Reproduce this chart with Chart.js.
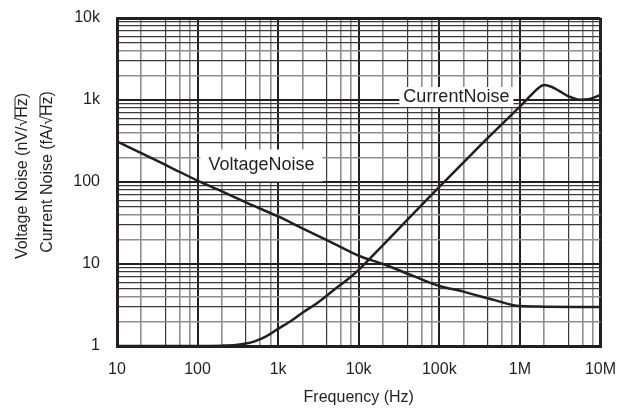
<!DOCTYPE html>
<html>
<head>
<meta charset="utf-8">
<script src="https://cdn.jsdelivr.net/npm/chart.js@4.4.1/dist/chart.umd.min.js"></script>
<style>
  html, body { margin: 0; padding: 0; background: #fff; }
  #wrap { width: 630px; height: 410px; }
</style>
</head>
<body>
<div id="wrap"><canvas id="noise"></canvas></div>
<script>
// values (Hz, nV/rtHz and fA/rtHz)
const freqV = [10, 20, 50, 100, 200, 500, 1e3, 2e3, 5e3, 1e4, 2e4, 5e4, 1e5, 2e5, 3e5, 5e5, 8e5, 1e6, 2e6, 5e6, 1e7];
const voltageNoise = [313, 225, 145, 104, 77, 51, 38, 27.2, 17.6, 12.6, 10.0, 7.0, 5.4, 4.6, 4.1, 3.6, 3.17, 3.07, 3.02, 3.0, 3.0];

const freqI = [10, 100, 200, 300, 400, 500, 700, 1e3, 1.5e3, 2e3, 3e3, 5e3, 7e3, 1e4, 2e4, 4e4, 1e5, 2e5, 4e5, 7e5, 1e6, 1.25e6, 1.5e6, 1.75e6, 2e6, 2.5e6, 3e6, 4e6, 5.5e6, 7e6, 1e7];
const currentNoise = [1.0, 1.0, 1.01, 1.03, 1.07, 1.13, 1.3, 1.62, 2.08, 2.55, 3.3, 4.9, 6.3, 8.5, 17, 34.5, 87, 173, 345, 590, 830, 1040, 1250, 1430, 1520, 1440, 1310, 1110, 1010, 1020, 1150];

const xTickValues = [10, 100, 1e3, 1e4, 1e5, 1e6, 1e7];
const xTickLabels = ['10', '100', '1k', '10k', '100k', '1M', '10M'];
const yTickValues = [1, 10, 100, 1000, 10000];
const yTickLabels = ['1', '10', '100', '1k', '10k'];

const xMinor = [2, 4, 6, 8];
const yMinor = [2, 3, 4, 5, 6, 7, 8, 9];

// curve labels, anchored in data units
const noteText = ['CurrentNoise', 'VoltageNoise'];
const noteX = [1.63e5, 620];
const noteY = [1090, 159];

const INK = '#231f20';
const FONT = '"Liberation Sans", Arial, Helvetica, sans-serif';

function gridValues(decades, minors) {
  const out = [];
  decades.forEach((d, i) => {
    out.push(d);
    if (i < decades.length - 1) minors.forEach(m => out.push(m * d));
  });
  return out;
}

function mult(v) {
  const e = Math.floor(Math.log10(v) + 1e-9);
  return Math.round(v / Math.pow(10, e));
}

// dark minors per axis, the rest are drawn grey
const xDark = [4];
const yDark = [3, 5, 6, 7, 8, 9];

function gridColor(v, dark) {
  const m = mult(v);
  if (m === 1) return INK;
  return dark.includes(m) ? '#3a3a3a' : '#8e8e8e';
}
function gridWidth(v, dark, lo, hi) {
  const m = mult(v);
  if (Math.abs(v - lo) < 1e-9 || Math.abs(v - hi) < 1e-6) return 3;
  if (m === 1) return 2;
  return dark.includes(m) ? 1.2 : 1.6;
}

const toPts = (xs, ys) => xs.map((x, i) => ({ x, y: ys[i] }));

const notesPlugin = {
  id: 'notes',
  beforeDatasetsDraw(chart) {
    const { ctx, scales } = chart;
    const pads = [[4, 10], [8, 16]];  // [padX, padY] per label
    ctx.save();
    ctx.font = '18px ' + FONT;
    ctx.textAlign = 'center';
    ctx.textBaseline = 'middle';
    noteText.forEach((t, i) => {
      const px = scales.x.getPixelForValue(noteX[i]);
      const py = scales.y.getPixelForValue(noteY[i]);
      const w = ctx.measureText(t).width;
      const [padX, padY] = pads[i];
      ctx.fillStyle = '#fff';
      ctx.fillRect(px - w / 2 - padX, py - padY, w + 2 * padX, 2 * padY);
      ctx.fillStyle = INK;
      ctx.fillText(t, px, py);
    });
    ctx.restore();
  }
};

const yTitlePlugin = {
  id: 'ytitle',
  afterDraw(chart) {
    const { ctx } = chart;
    const lines = [
      ['Voltage Noise (nV/\u221A', 'Hz', ')', 23, 176],
      ['Current Noise (fA/\u221A', 'Hz', ')', 48, 172],
    ];
    ctx.save();
    ctx.font = '16px ' + FONT;
    ctx.fillStyle = INK;
    ctx.strokeStyle = INK;
    ctx.textBaseline = 'middle';
    ctx.textAlign = 'left';
    lines.forEach(([a, b, c, x, y]) => {
      const wa = ctx.measureText(a).width;
      const wb = ctx.measureText(b).width;
      const wc = ctx.measureText(c).width;
      const total = wa + wb + wc;
      ctx.save();
      ctx.translate(x, y);
      ctx.rotate(-Math.PI / 2);
      const s = -total / 2;
      ctx.fillText(a + b + c, s, 0);
      ctx.lineWidth = 1;
      ctx.beginPath();
      ctx.moveTo(s + wa - 1, -8);
      ctx.lineTo(s + wa + wb + 0.5, -8);
      ctx.stroke();
      ctx.restore();
    });
    ctx.restore();
  }
};

const xGrid = gridValues(xTickValues, xMinor);
const yGrid = gridValues(yTickValues, yMinor);

new Chart(document.getElementById('noise'), {
  type: 'line',
  data: {
    datasets: [
      {
        label: 'VoltageNoise',
        data: toPts(freqV, voltageNoise),
        borderColor: INK,
        borderWidth: 2.5,
        pointRadius: 0,
        cubicInterpolationMode: 'monotone',
        fill: false,
      },
      {
        label: 'CurrentNoise',
        data: toPts(freqI, currentNoise),
        borderColor: INK,
        borderWidth: 2.5,
        pointRadius: 0,
        cubicInterpolationMode: 'monotone',
        fill: false,
      },
    ],
  },
  options: {
    responsive: true,
    maintainAspectRatio: false,
    animation: false,
    layout: { padding: { left: 0, top: 18, right: 29, bottom: 0 } },
    plugins: {
      legend: { display: false },
      tooltip: { enabled: false },
    },
    scales: {
      x: {
        type: 'logarithmic',
        min: 10,
        max: 1e7,
        afterBuildTicks: s => { s.ticks = xGrid.map(v => ({ value: v })); },
        afterFit: s => { s.height = 64; },
        ticks: {
          autoSkip: false,
          maxRotation: 0,
          padding: 14,
          color: INK,
          font: { family: FONT, size: 16 },
          callback: v => {
            const i = xTickValues.findIndex(t => Math.abs(t - v) < 1e-6 * t);
            return i >= 0 ? xTickLabels[i] : '';
          },
        },
        grid: {
          drawTicks: false,
          color: c => gridColor(c.tick.value, xDark),
          lineWidth: c => gridWidth(c.tick.value, xDark, 10, 1e7),
        },
        border: { display: true, color: INK, width: 3 },
        title: {
          display: true,
          text: 'Frequency (Hz)',
          color: INK,
          font: { family: FONT, size: 16 },
          padding: { top: 0, bottom: 3 },
        },
      },
      y: {
        type: 'logarithmic',
        min: 1,
        max: 10000,
        afterBuildTicks: s => { s.ticks = yGrid.map(v => ({ value: v })); },
        afterFit: s => { s.width = 117; s.paddingTop = 0; s.paddingBottom = 0; },
        ticks: {
          autoSkip: false,
          padding: 17,
          color: INK,
          font: { family: FONT, size: 16 },
          callback: v => {
            const i = yTickValues.findIndex(t => Math.abs(t - v) < 1e-6 * t);
            return i >= 0 ? yTickLabels[i] : '';
          },
        },
        grid: {
          drawTicks: false,
          color: c => gridColor(c.tick.value, yDark),
          lineWidth: c => gridWidth(c.tick.value, yDark, 1, 10000),
        },
        border: { display: true, color: INK, width: 3 },
      },
    },
  },
  plugins: [notesPlugin, yTitlePlugin],
});
</script>
</body>
</html>
